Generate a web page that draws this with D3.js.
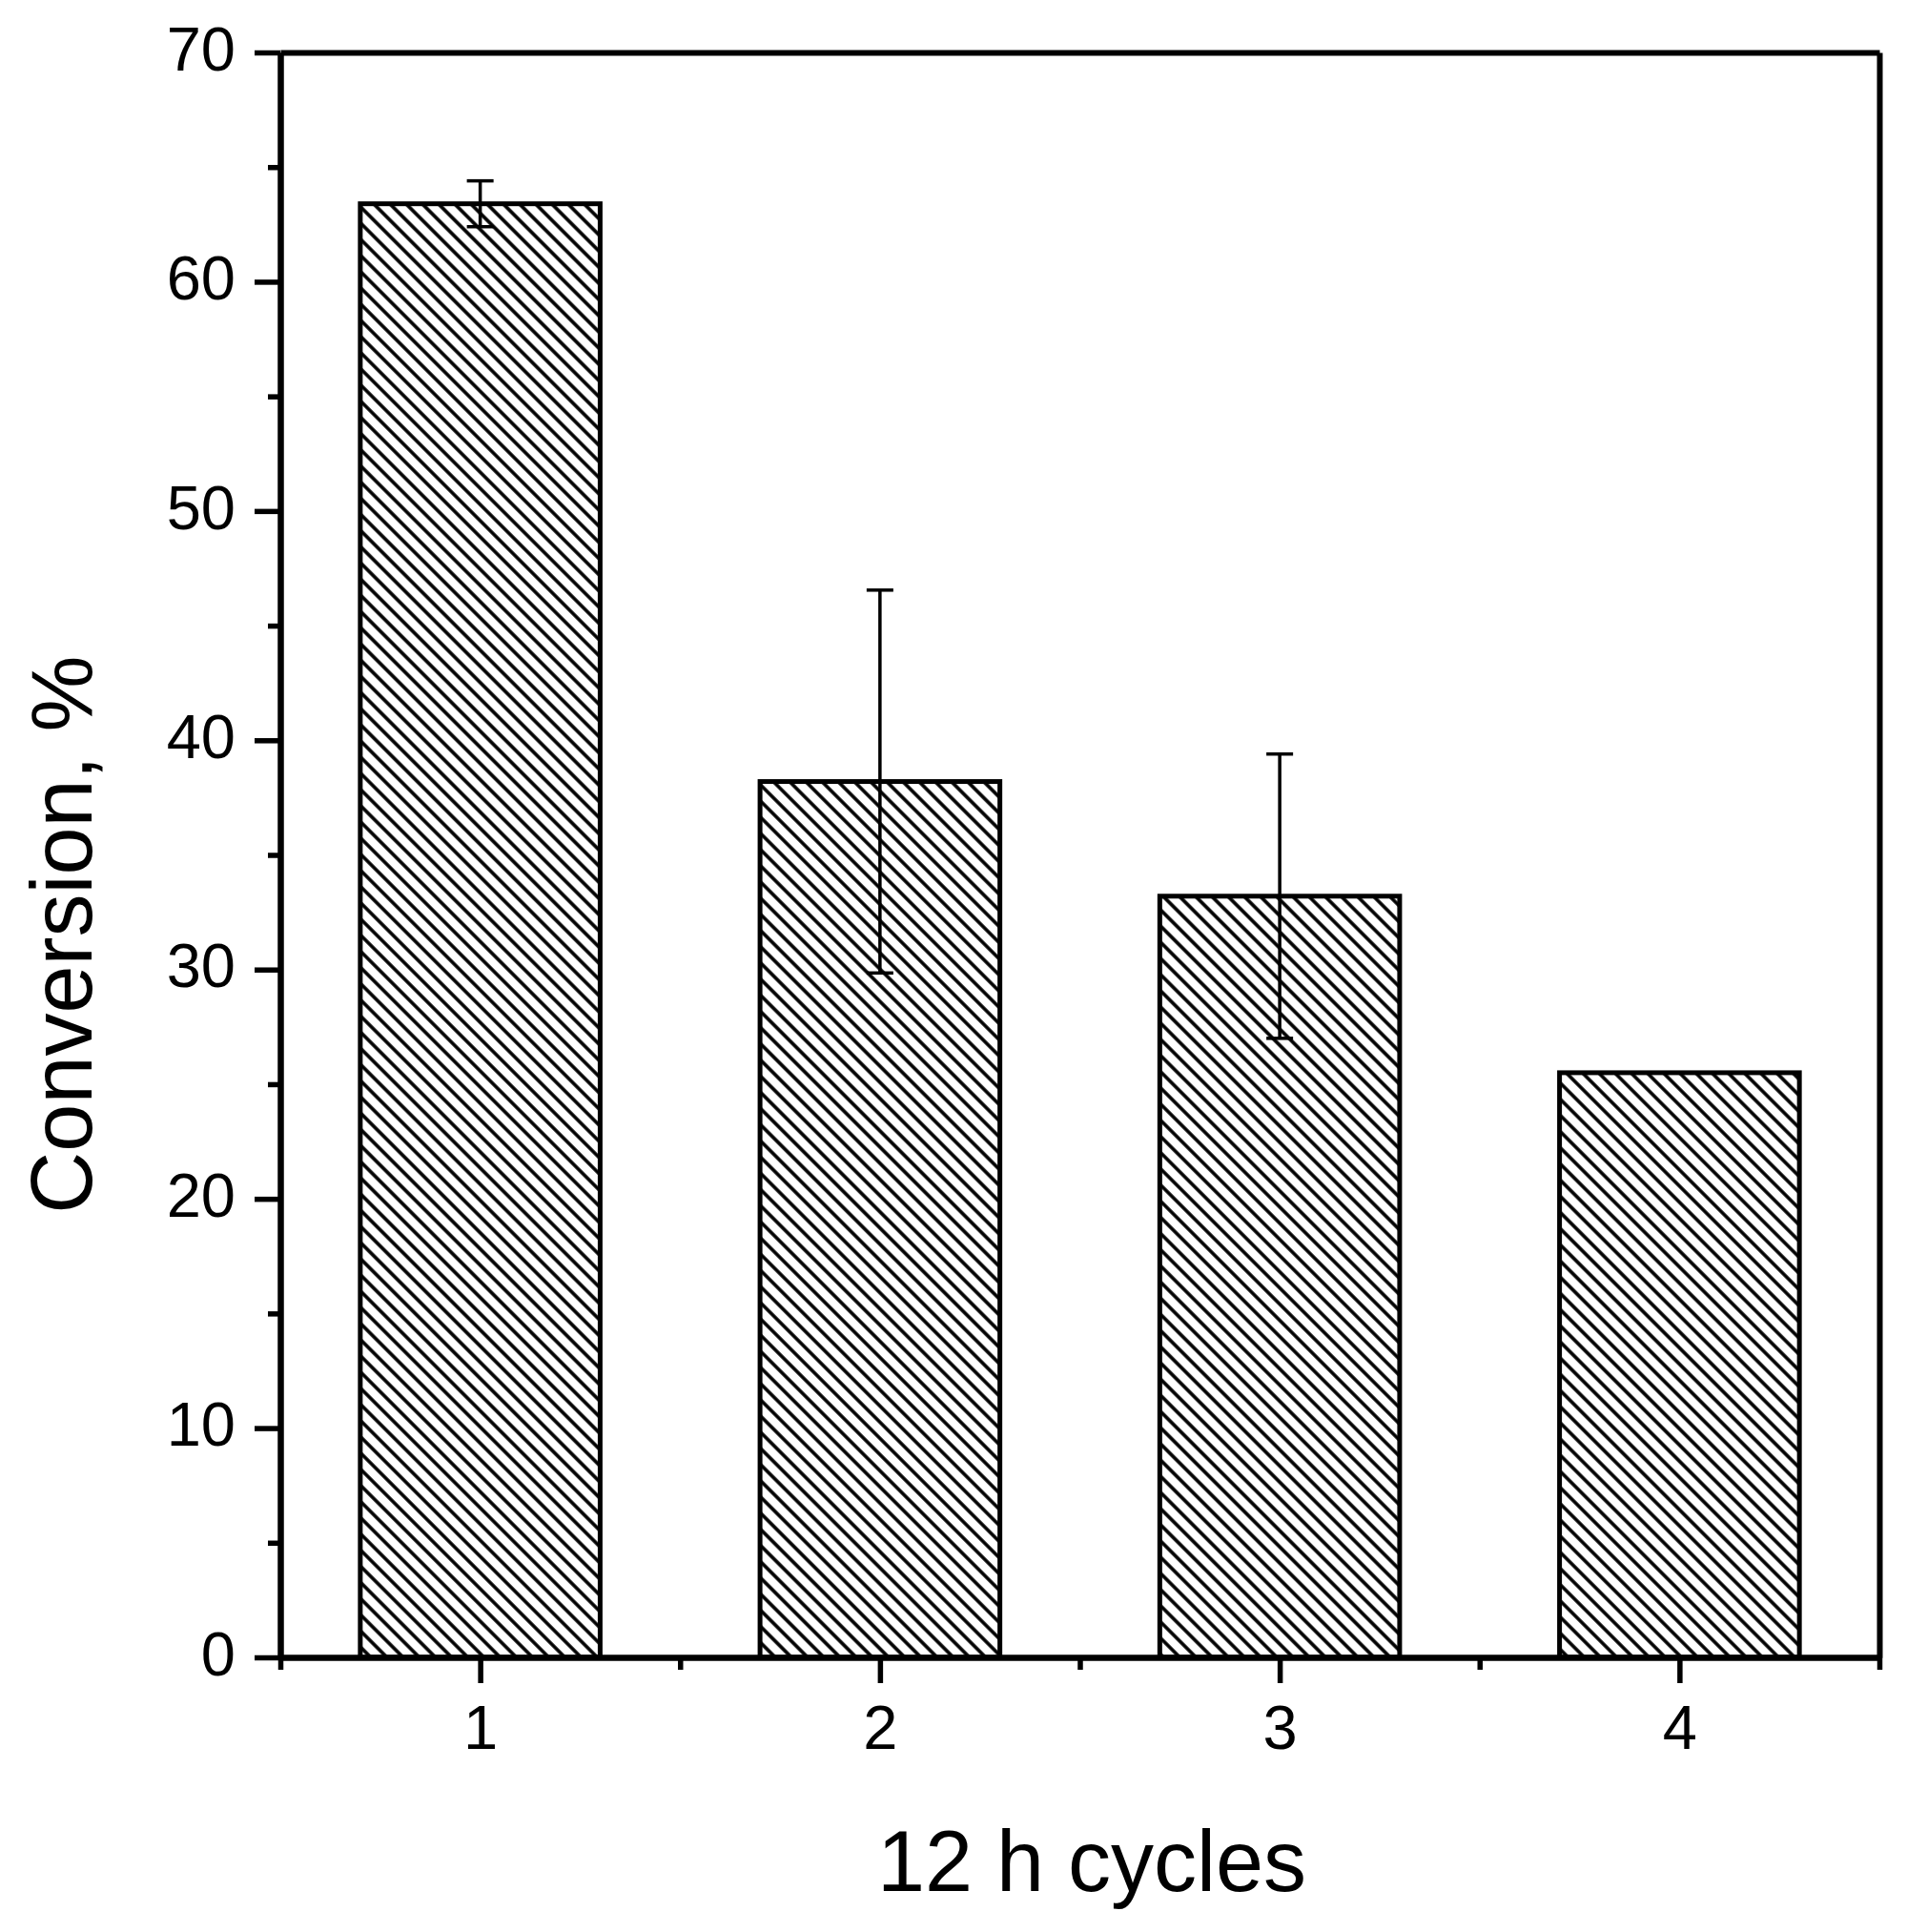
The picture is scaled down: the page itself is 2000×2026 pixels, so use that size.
<!DOCTYPE html>
<html>
<head>
<meta charset="utf-8">
<script src="https://d3js.org/d3.v7.min.js"></script>
<style>
  body { margin: 0; background: #fff; }
  svg { display: block; }
  .axis text { font-family: 'Liberation Sans', Arial, sans-serif; font-size: 65px; fill: #000; }
  .title { font-family: 'Liberation Sans', Arial, sans-serif; font-size: 90px; fill: #000; }
</style>
</head>
<body>
<div id="chart"></div>
<script>
// --- data ---
const cycles = [1, 2, 3, 4];
const conversion = [63.4, 38.2, 33.2, 25.5];
const conversionErr = [1.0, 8.35, 6.2, 0];
const yMajorTicks = [0, 10, 20, 30, 40, 50, 60, 70];
const yMinorTicks = [5, 15, 25, 35, 45, 55, 65];
const xMinorTicks = [0.5, 1.5, 2.5, 3.5, 4.5];

const W = 2000, H = 2026;
const plot = { left: 294, right: 1971, top: 55, bottom: 1738 };
const barHalf = 0.3;
const hs = 12; // hatch spacing

const svg = d3.select("#chart").append("svg")
  .attr("width", W).attr("height", H);

// hatch fill
const defs = svg.append("defs");
const hatch = defs.append("pattern")
  .attr("id", "hatch")
  .attr("patternUnits", "userSpaceOnUse")
  .attr("width", hs).attr("height", hs)
  .attr("patternTransform", "rotate(45)");
hatch.append("rect").attr("width", hs).attr("height", hs).attr("fill", "#fff");
hatch.append("line")
  .attr("x1", -1).attr("y1", hs / 2).attr("x2", hs + 1).attr("y2", hs / 2)
  .attr("stroke", "#000").attr("stroke-width", 3.6);

const x = d3.scaleLinear().domain([0.5, 4.5]).range([plot.left, plot.right]);
const y = d3.scaleLinear().domain([0, 70]).range([plot.bottom, plot.top]);

const rows = cycles.map((c, i) => ({ c, v: conversion[i], e: conversionErr[i] }));

// bars
svg.append("g").selectAll("rect")
  .data(rows)
  .enter().append("rect")
  .attr("x", d => x(d.c - barHalf))
  .attr("width", d => x(d.c + barHalf) - x(d.c - barHalf))
  .attr("y", d => y(d.v))
  .attr("height", d => y(0) - y(d.v))
  .attr("fill", "url(#hatch)")
  .attr("stroke", "#000")
  .attr("stroke-width", 5);

// error bars
const eb = svg.append("g").attr("stroke", "#000").attr("stroke-width", 3.5)
  .selectAll("g")
  .data(rows.filter(d => d.e > 0))
  .enter().append("g");
eb.append("line")
  .attr("x1", d => x(d.c)).attr("x2", d => x(d.c))
  .attr("y1", d => y(d.v - d.e)).attr("y2", d => y(d.v + d.e));
eb.append("line")
  .attr("x1", d => x(d.c) - 14).attr("x2", d => x(d.c) + 14)
  .attr("y1", d => y(d.v + d.e)).attr("y2", d => y(d.v + d.e));
eb.append("line")
  .attr("x1", d => x(d.c) - 14).attr("x2", d => x(d.c) + 14)
  .attr("y1", d => y(d.v - d.e)).attr("y2", d => y(d.v - d.e));

function styleAxis(g) {
  g.selectAll("path.domain").attr("stroke", "#000").attr("stroke-width", 6);
  g.selectAll(".tick line").attr("stroke", "#000").attr("stroke-width", 5.5);
}

// left axis: minor then major
svg.append("g").attr("class", "axis")
  .attr("transform", `translate(${plot.left},0)`)
  .call(d3.axisLeft(y).tickValues(yMinorTicks).tickSize(13).tickSizeOuter(0).tickFormat(""))
  .call(styleAxis);
svg.append("g").attr("class", "axis")
  .attr("transform", `translate(${plot.left},0)`)
  .call(d3.axisLeft(y).tickValues(yMajorTicks).tickSize(27).tickSizeOuter(0).tickPadding(20))
  .call(styleAxis)
  .selectAll("text").attr("dy", "0.28em");

// bottom axis
svg.append("g").attr("class", "axis")
  .attr("transform", `translate(0,${plot.bottom})`)
  .call(d3.axisBottom(x).tickValues(xMinorTicks).tickSize(13).tickSizeOuter(0).tickFormat(""))
  .call(styleAxis);
svg.append("g").attr("class", "axis")
  .attr("transform", `translate(0,${plot.bottom})`)
  .call(d3.axisBottom(x).tickValues(cycles).tickSize(27).tickSizeOuter(0).tickPadding(23).tickFormat(d3.format("d")))
  .call(styleAxis);

// top and right frame lines
svg.append("g")
  .attr("transform", `translate(0,${plot.top})`)
  .call(d3.axisTop(x).tickValues([]).tickSizeOuter(0))
  .call(styleAxis);
svg.append("g")
  .attr("transform", `translate(${plot.right},0)`)
  .call(d3.axisRight(y).tickValues([]).tickSizeOuter(0))
  .call(styleAxis);

// titles
svg.append("text").attr("class", "title")
  .attr("x", 1145).attr("y", 1983)
  .attr("text-anchor", "middle")
  .text("12 h cycles");

svg.append("text").attr("class", "title")
  .attr("transform", "translate(96,980) rotate(-90)")
  .attr("text-anchor", "middle")
  .text("Conversion, %");
</script>
</body>
</html>
